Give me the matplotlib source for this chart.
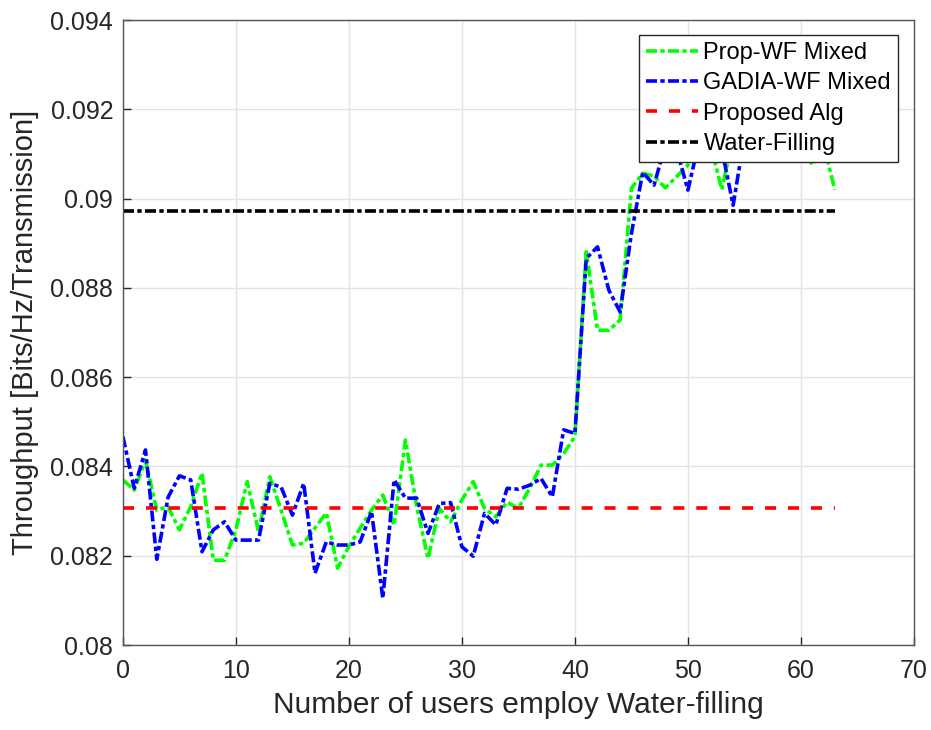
import numpy as np
import matplotlib
matplotlib.use('Agg')
import matplotlib.pyplot as plt

plt.rcParams['font.family'] = ['Liberation Sans', 'DejaVu Sans']

# number of users using water-filling
users = np.arange(0, 64)

# Prop-WF Mixed (green)
prop_wf = [0.0837, 0.08347, 0.08414, 0.08302, 0.0831, 0.08258, 0.0831, 0.08385,
           0.0819, 0.0819, 0.08258, 0.08366, 0.08254, 0.08377, 0.08302, 0.08224,
           0.08228, 0.08262, 0.08296, 0.08172, 0.08221, 0.08262, 0.08302, 0.08336,
           0.08269, 0.08459, 0.0831, 0.08194, 0.08306, 0.08276, 0.08325, 0.08366,
           0.08306, 0.08287, 0.0832, 0.08306, 0.08351, 0.08403, 0.08403, 0.08429,
           0.08467, 0.08881, 0.08705, 0.08705, 0.08728, 0.09023, 0.09057, 0.0905,
           0.09024, 0.09049, 0.09075, 0.0913, 0.0912, 0.0902, 0.0914, 0.0913,
           0.0915, 0.0912, 0.0916, 0.0914, 0.0913, 0.09075, 0.0912, 0.0902]

# GADIA-WF Mixed (blue)
gadia_wf = [0.08467, 0.08351, 0.08437, 0.08192, 0.08331, 0.08379, 0.0837, 0.08209,
            0.08258, 0.08276, 0.08235, 0.08235, 0.08235, 0.08362, 0.08354, 0.08291,
            0.08362, 0.08161, 0.08231, 0.08224, 0.08224, 0.08231, 0.08299, 0.08105,
            0.0837, 0.08329, 0.08329, 0.0825, 0.08317, 0.08319, 0.0822, 0.08199,
            0.08295, 0.08269, 0.08351, 0.08349, 0.08358, 0.08373, 0.08332, 0.08482,
            0.08474, 0.08866, 0.08892, 0.08795, 0.08746, 0.08922, 0.09059, 0.0903,
            0.0912, 0.0911, 0.09019, 0.0913, 0.0912, 0.0911, 0.08985, 0.0914,
            0.0915, 0.0913, 0.0916, 0.0914, 0.0915, 0.0913, 0.0914, 0.0913]

proposed = 0.08307
water_filling = 0.08972

xticks = [0, 10, 20, 30, 40, 50, 60, 70]
yticks = [0.08, 0.082, 0.084, 0.086, 0.088, 0.09, 0.092, 0.094]
ytick_labels = ['0.08', '0.082', '0.084', '0.086', '0.088', '0.09', '0.092', '0.094']

fig = plt.figure(figsize=(9.31, 7.30), dpi=100)
ax = fig.add_axes([0.132, 0.1164, 0.8497, 0.8562])

lw = 2.6
dashdot = (3.05, 0.92, 1.2, 0.92)
ax.plot(users, prop_wf, color='#00ff00', lw=lw, dashes=dashdot,
        label='Prop-WF Mixed')
ax.plot(users, gadia_wf, color='#0000ff', lw=lw, dashes=dashdot,
        label='GADIA-WF Mixed')
ax.plot(users, np.full(len(users), proposed), color='#ff0000', lw=lw,
        dashes=(3.05, 3.3), label='Proposed Alg')
ax.plot(users, np.full(len(users), water_filling), color='black', lw=lw,
        dashes=dashdot, label='Water-Filling')

ax.set_xlim(0, 70)
ax.set_ylim(0.08, 0.094)
ax.set_xticks(xticks)
ax.set_yticks(yticks)
ax.set_yticklabels(ytick_labels)
ax.tick_params(direction='in', length=6, width=1, labelsize=18,
               colors='#262626', top=False, right=False)
ax.tick_params(axis='x', pad=10)
ax.tick_params(axis='y', pad=7)
ax.grid(True, color='#e3e3e3', lw=1)
ax.set_axisbelow(True)
for sp in ax.spines.values():
    sp.set_color('#555555')
    sp.set_linewidth(1)

ax.set_xlabel('Number of users employ Water-filling', fontsize=21.5,
              color='#262626', labelpad=6)
ax.set_ylabel('Throughput [Bits/Hz/Transmission]', fontsize=21,
              color='#262626', labelpad=8)

leg = ax.legend(loc='upper right', bbox_to_anchor=(0.98, 0.976), borderaxespad=0,
                fontsize=17, frameon=True, fancybox=False, framealpha=1,
                edgecolor='#262626', handlelength=2.2, handletextpad=0.25,
                labelspacing=0.35, borderpad=0.3)
leg.get_frame().set_linewidth(1)

fig.savefig('out.png', dpi=100)
